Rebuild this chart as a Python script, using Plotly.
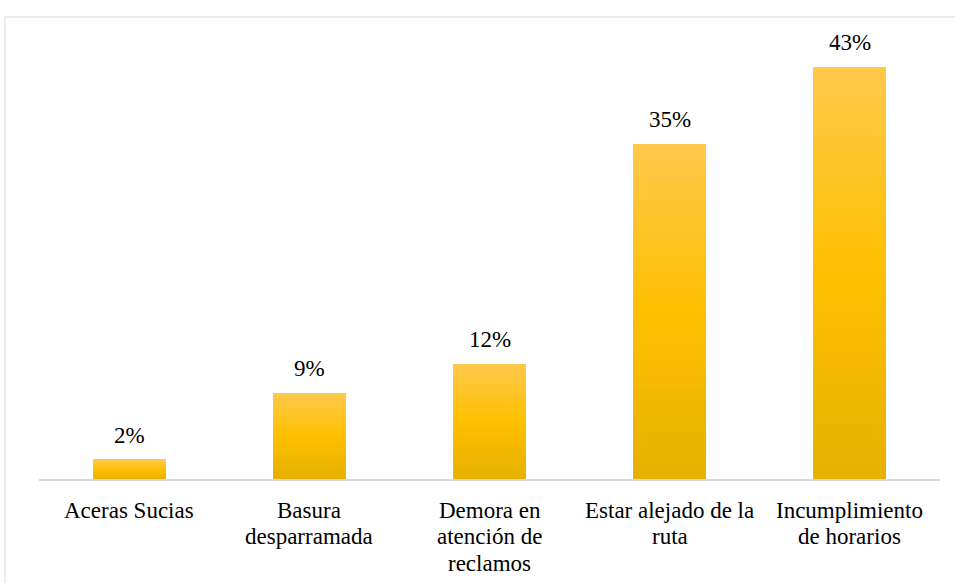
import plotly.graph_objects as go

# Survey results: main complaints about the waste collection service
categories = [
    "Aceras Sucias",
    "Basura<br>desparramada",
    "Demora en<br>atención de<br>reclamos",
    "Estar alejado de la<br>ruta",
    "Incumplimiento<br>de horarios",
]
values = [2, 9, 12, 35, 43]
value_labels = ["2%", "9%", "12%", "35%", "43%"]

# Vertical gradient for the bars: bottom -> middle -> top
grad_bottom = (230, 176, 0)
grad_mid = (255, 192, 0)
grad_top = (255, 200, 76)
n_steps = 30

SERIF = "Times New Roman, Liberation Serif, DejaVu Serif, serif"
FONT_SIZE = 23
LINE_STEP = 26.5      # spacing between lines of a category label, px
FIRST_LINE_GAP = 31   # axis line to middle of the first label line, px


def lerp(a, b, t):
    return tuple(round(a[i] + (b[i] - a[i]) * t) for i in range(3))


def grad_color(t):
    if t < 0.5:
        c = lerp(grad_bottom, grad_mid, t / 0.5)
    else:
        c = lerp(grad_mid, grad_top, (t - 0.5) / 0.5)
    return "rgb(%d,%d,%d)" % c


fig = go.Figure()

# Each bar is built from equal stacked slices of its own value, shaded bottom to top
for k in range(n_steps):
    t = (k + 0.5) / n_steps
    fig.add_trace(go.Bar(
        x=categories,
        y=[v / n_steps for v in values],
        marker=dict(color=grad_color(t), line=dict(width=0)),
        hoverinfo="skip",
        showlegend=False,
    ))

# Value labels above each bar
for cat, v, lab in zip(categories, values, value_labels):
    fig.add_annotation(
        x=cat, y=v, text=lab, showarrow=False,
        yanchor="bottom", yshift=10,
        font=dict(family=SERIF, size=FONT_SIZE, color="#000000"),
    )

# Category labels under the axis, one annotation per line for tighter leading
for cat in categories:
    for i, line in enumerate(cat.split("<br>")):
        fig.add_annotation(
            x=cat, y=0, text=line, showarrow=False,
            xanchor="center", yanchor="middle",
            yshift=-(FIRST_LINE_GAP + i * LINE_STEP),
            font=dict(family=SERIF, size=FONT_SIZE, color="#000000"),
        )

W, H = 955, 583
ml, mr, mt, mb = 39, 15, 48, 104

fig.update_layout(
    width=W, height=H,
    margin=dict(l=ml, r=mr, t=mt, b=mb),
    barmode="stack",
    bargap=0.595,
    paper_bgcolor="white",
    plot_bgcolor="white",
    font=dict(family=SERIF, size=FONT_SIZE, color="#000000"),
    xaxis=dict(
        showgrid=False, ticks="", showline=True,
        linecolor="#D9D9D9", linewidth=2,
        showticklabels=False,
        automargin=False,
    ),
    yaxis=dict(range=[0, 45], visible=False, showgrid=False, zeroline=False,
               automargin=False),
    shapes=[dict(
        type="rect", xref="paper", yref="paper",
        x0=(5 - ml) / (W - ml - mr), x1=(W + 5 - ml) / (W - ml - mr),
        y0=(mb - H - 5) / (H - mt - mb), y1=(H - 17 - mb) / (H - mt - mb),
        line=dict(color="#D9D9D9", width=1), fillcolor="rgba(0,0,0,0)",
        layer="below",
    )],
)

fig.write_html("out.html")
